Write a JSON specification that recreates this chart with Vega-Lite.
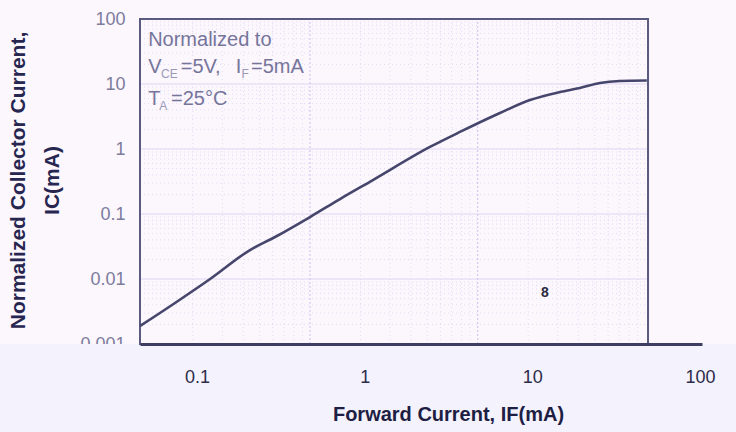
{
  "$schema": "https://vega.github.io/schema/vega-lite/v6.json",
  "width": 562,
  "height": 325,
  "autosize": {"type": "none"},
  "padding": {"left": 140, "top": 19, "right": 34, "bottom": 88},
  "background": "#fcf6fd",
  "config": {"view": {"stroke": null}, "font": "Liberation Sans"},
  "datasets": {
    "curve": [
      {"fwd": 0.0457, "col": 0.00189},
      {"fwd": 0.0739, "col": 0.00428},
      {"fwd": 0.1197, "col": 0.0100},
      {"fwd": 0.207, "col": 0.0279},
      {"fwd": 0.292, "col": 0.0443},
      {"fwd": 0.472, "col": 0.0899},
      {"fwd": 0.713, "col": 0.170},
      {"fwd": 1.12, "col": 0.333},
      {"fwd": 2.45, "col": 1.075},
      {"fwd": 3.70, "col": 1.83},
      {"fwd": 6.41, "col": 3.58},
      {"fwd": 9.68, "col": 5.67},
      {"fwd": 14.6, "col": 7.53},
      {"fwd": 19.2, "col": 8.68},
      {"fwd": 25.3, "col": 10.36},
      {"fwd": 33.3, "col": 11.1},
      {"fwd": 48.2, "col": 11.3}
    ],
    "hmajor": [{"g": 0.01}, {"g": 0.1}, {"g": 1}, {"g": 10}],
    "hminor": [
      {"g": 0.002}, {"g": 0.003}, {"g": 0.004}, {"g": 0.005}, {"g": 0.006}, {"g": 0.007}, {"g": 0.008}, {"g": 0.009},
      {"g": 0.02}, {"g": 0.03}, {"g": 0.04}, {"g": 0.05}, {"g": 0.06}, {"g": 0.07}, {"g": 0.08}, {"g": 0.09},
      {"g": 0.2}, {"g": 0.3}, {"g": 0.4}, {"g": 0.5}, {"g": 0.6}, {"g": 0.7}, {"g": 0.8}, {"g": 0.9},
      {"g": 2}, {"g": 3}, {"g": 4}, {"g": 5}, {"g": 6}, {"g": 7}, {"g": 8}, {"g": 9},
      {"g": 20}, {"g": 30}, {"g": 40}, {"g": 50}, {"g": 60}, {"g": 70}, {"g": 80}, {"g": 90}
    ],
    "vmajor": [{"g": 0.472}, {"g": 4.72}],
    "vminor": [
      {"g": 0.0944}, {"g": 0.1416}, {"g": 0.1888}, {"g": 0.236}, {"g": 0.283}, {"g": 0.330}, {"g": 0.378}, {"g": 0.425},
      {"g": 0.944}, {"g": 1.416}, {"g": 1.888}, {"g": 2.36}, {"g": 2.83}, {"g": 3.30}, {"g": 3.78}, {"g": 4.25},
      {"g": 9.44}, {"g": 14.16}, {"g": 18.88}, {"g": 23.6}, {"g": 28.3}, {"g": 33.0}, {"g": 37.8}, {"g": 42.5}
    ],
    "notes": [
      {"t": "Normalized to", "x": 0.0511, "y": 38.4},
      {"t": "V", "x": 0.0511, "y": 14.8},
      {"t": "=5V,", "x": 0.0800, "y": 14.8},
      {"t": "I", "x": 0.1700, "y": 14.8},
      {"t": "=5mA", "x": 0.2100, "y": 14.8},
      {"t": "T", "x": 0.0511, "y": 4.75},
      {"t": "=25°C", "x": 0.0700, "y": 4.75}
    ],
    "subs": [
      {"t": "CE", "x": 0.0610, "y": 14.8},
      {"t": "F", "x": 0.1840, "y": 14.8},
      {"t": "A", "x": 0.0595, "y": 4.75}
    ],
    "mark8": [{"t": "8", "x": 11.9, "y": 0.0061}]
  },
  "layer": [
    {
      "data": {"values": [{}]},
      "mark": {"type": "rect", "fill": "#f4f2fc", "stroke": null},
      "encoding": {
        "x": {"datum": 0.001, "type": "quantitative", "scale": {"type": "log", "domain": [0.0457, 102.8], "nice": false}},
        "x2": {"datum": 1000},
        "y": {"datum": 0.001, "type": "quantitative", "scale": {"type": "log", "domain": [0.001, 100], "nice": false}},
        "y2": {"datum": 0.00001}
      }
    },
    {
      "data": {"name": "hminor"},
      "mark": {"type": "rule", "color": "#e2dcf6", "strokeWidth": 1, "strokeDash": [1, 3]},
      "encoding": {
        "x": {"datum": 0.0457, "type": "quantitative", "scale": {"type": "log", "domain": [0.0457, 102.8], "nice": false}},
        "x2": {"datum": 48.98},
        "y": {"field": "g", "type": "quantitative", "scale": {"type": "log", "domain": [0.001, 100], "nice": false}}
      }
    },
    {
      "data": {"name": "vminor"},
      "mark": {"type": "rule", "color": "#e2dcf6", "strokeWidth": 1, "strokeDash": [1, 3]},
      "encoding": {
        "y": {"datum": 0.001, "type": "quantitative", "scale": {"type": "log", "domain": [0.001, 100], "nice": false}},
        "y2": {"datum": 100},
        "x": {"field": "g", "type": "quantitative", "scale": {"type": "log", "domain": [0.0457, 102.8], "nice": false}}
      }
    },
    {
      "data": {"name": "hmajor"},
      "mark": {"type": "rule", "color": "#dcd5f4", "strokeWidth": 1.2},
      "encoding": {
        "x": {"datum": 0.0457, "type": "quantitative", "scale": {"type": "log", "domain": [0.0457, 102.8], "nice": false}},
        "x2": {"datum": 48.98},
        "y": {"field": "g", "type": "quantitative", "scale": {"type": "log", "domain": [0.001, 100], "nice": false}}
      }
    },
    {
      "data": {"name": "vmajor"},
      "mark": {"type": "rule", "color": "#d2caf0", "strokeWidth": 1.2, "strokeDash": [2, 2]},
      "encoding": {
        "y": {"datum": 0.001, "type": "quantitative", "scale": {"type": "log", "domain": [0.001, 100], "nice": false}},
        "y2": {"datum": 100},
        "x": {"field": "g", "type": "quantitative", "scale": {"type": "log", "domain": [0.0457, 102.8], "nice": false}}
      }
    },
    {
      "data": {"values": [{}]},
      "mark": {"type": "rect", "filled": false, "stroke": "#5a5a80", "strokeWidth": 2},
      "encoding": {
        "x": {"datum": 0.0457, "type": "quantitative", "scale": {"type": "log", "domain": [0.0457, 102.8], "nice": false}},
        "x2": {"datum": 48.98},
        "y": {"datum": 0.001, "type": "quantitative", "scale": {"type": "log", "domain": [0.001, 100], "nice": false}},
        "y2": {"datum": 100}
      }
    },
    {
      "data": {"name": "curve"},
      "mark": {"type": "line", "color": "#46466c", "strokeWidth": 2.6, "interpolate": "monotone"},
      "encoding": {
        "x": {
          "field": "fwd", "type": "quantitative",
          "scale": {"type": "log", "domain": [0.0457, 102.8], "nice": false},
          "axis": {
            "values": [0.1, 1, 10, 100], "format": "~g",
            "labelFontSize": 18, "labelColor": "#2c2c4a", "labelPadding": 24,
            "ticks": false, "tickSize": 0, "grid": false,
            "domain": true, "domainColor": "#3e3e62", "domainWidth": 3,
            "zindex": 1,
            "title": "Forward Current, IF(mA)",
            "titleFontSize": 20, "titleFontWeight": "bold", "titleColor": "#1e1e44",
            "titleX": 308, "titleY": 76, "titleAlign": "center", "titleBaseline": "alphabetic"
          }
        },
        "y": {
          "field": "col", "type": "quantitative",
          "scale": {"type": "log", "domain": [0.001, 100], "nice": false},
          "axis": {
            "values": [0.001, 0.01, 0.1, 1, 10, 100], "format": "~g",
            "labelFontSize": 18, "labelColor": "#7c7c9c", "labelPadding": 15,
            "ticks": false, "tickSize": 0, "grid": false, "domain": false,
            "zindex": 0,
            "title": ["Normalized Collector Current,", "IC(mA)"],
            "titleFontSize": 21, "titleFontWeight": "bold", "titleColor": "#262650",
            "titleLineHeight": 34, "titleBaseline": "middle", "titleAlign": "center",
            "titleX": -122, "titleY": 161, "titleAngle": -90
          }
        }
      }
    },
    {
      "data": {"name": "notes"},
      "mark": {"type": "text", "align": "left", "baseline": "alphabetic", "fontSize": 20, "color": "#75759a"},
      "encoding": {
        "x": {"field": "x", "type": "quantitative", "scale": {"type": "log", "domain": [0.0457, 102.8], "nice": false}},
        "y": {"field": "y", "type": "quantitative", "scale": {"type": "log", "domain": [0.001, 100], "nice": false}},
        "text": {"field": "t"}
      }
    },
    {
      "data": {"name": "subs"},
      "mark": {"type": "text", "align": "left", "baseline": "alphabetic", "fontSize": 12, "dy": 5, "color": "#9a9ab8"},
      "encoding": {
        "x": {"field": "x", "type": "quantitative", "scale": {"type": "log", "domain": [0.0457, 102.8], "nice": false}},
        "y": {"field": "y", "type": "quantitative", "scale": {"type": "log", "domain": [0.001, 100], "nice": false}},
        "text": {"field": "t"}
      }
    },
    {
      "data": {"name": "mark8"},
      "mark": {"type": "text", "align": "center", "baseline": "middle", "fontSize": 14, "fontWeight": "bold", "color": "#2a2a40"},
      "encoding": {
        "x": {"field": "x", "type": "quantitative", "scale": {"type": "log", "domain": [0.0457, 102.8], "nice": false}},
        "y": {"field": "y", "type": "quantitative", "scale": {"type": "log", "domain": [0.001, 100], "nice": false}},
        "text": {"field": "t"}
      }
    }
  ]
}
